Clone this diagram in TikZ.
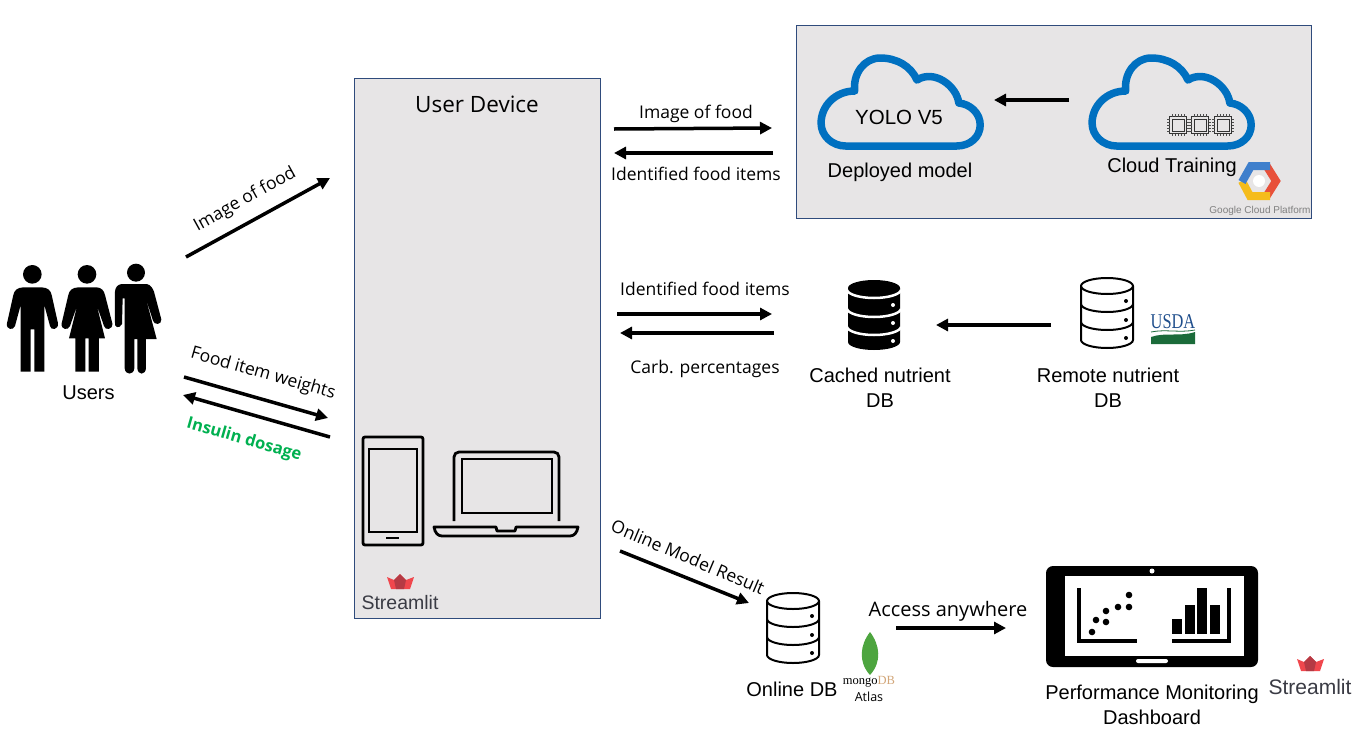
\documentclass[tikz,border=0pt]{standalone}
\usepackage{fontspec}
\setmainfont{Liberation Sans}
\newfontfamily\labelfont{Open Sans}
\newfontfamily\seriffont{Liberation Serif}
\usetikzlibrary{arrows.meta}
\definecolor{panelgray}{HTML}{E7E5E6}
\definecolor{panelblue}{HTML}{2F4B7C}
\definecolor{cloudblue}{HTML}{0070C0}
\definecolor{insulingreen}{HTML}{00B050}
\definecolor{crownred}{HTML}{F0474D}
\definecolor{crowndark}{HTML}{B53A44}
\definecolor{brandgray}{HTML}{3A3B44}
\definecolor{usdablue}{HTML}{1F4E8C}
\definecolor{usdagreen}{HTML}{1B6B3A}
\definecolor{leafgreen}{HTML}{4DA53F}
\definecolor{gcpblue}{HTML}{3F7FCC}
\definecolor{gcpred}{HTML}{E8503A}
\definecolor{gcpyellow}{HTML}{F5BC1C}
\tikzset{
	cloudicon/.pic={
		\draw[cloudblue,line width=7.5pt,line join=round,xscale=1.02] (28,92) -- (137,92) .. controls (150,92) and (160,83) .. (160,71) .. controls (160,59) and (150,50) .. (139,49) .. controls (137,32) and (115,15) .. (98,26) .. controls (92,12) and (78,4) .. (62,4) .. controls (46,4) and (35,20) .. (37,37) .. controls (18,37) and (4,52) .. (4,69) .. controls (4,82) and (15,92) .. (28,92) -- cycle;
	},
	dbicon/.pic={
		\draw[black,line width=2pt,fill=white] (0,8) .. controls (0,3.6) and (11.7,0) .. (26,0) .. controls (40.3,0) and (52,3.6) .. (52,8) -- (52,62) .. controls (52,66.4) and (40.3,70) .. (26,70) .. controls (11.7,70) and (0,66.4) .. (0,62) -- cycle;
		\foreach \bandy in {8,26,44} \draw[black,line width=2pt] (0,\bandy) .. controls (0,\bandy+4.4) and (11.7,\bandy+8) .. (26,\bandy+8) .. controls (40.3,\bandy+8) and (52,\bandy+4.4) .. (52,\bandy);
		\foreach \doty in {23,42,60} \fill[black] (45,\doty) circle (2);
	},
	dbfilled/.pic={
		\fill[black] (0,8) .. controls (0,3.6) and (11.7,0) .. (26,0) .. controls (40.3,0) and (52,3.6) .. (52,8) -- (52,62) .. controls (52,66.4) and (40.3,70) .. (26,70) .. controls (11.7,70) and (0,66.4) .. (0,62) -- cycle;
		\foreach \bandy in {10,29,47} \draw[white,line width=2.5pt] (-1,\bandy) .. controls (0,\bandy+4.4) and (11.7,\bandy+8) .. (26,\bandy+8) .. controls (40.3,\bandy+8) and (52,\bandy+4.4) .. (53,\bandy);
		\foreach \doty in {25,43,61} \fill[white] (45,\doty) circle (2);
	},
	crownicon/.pic={
		\fill[crownred] (0,3) -- (7,6) -- (13,0) -- (19,6) -- (27,3) -- (23,15) -- (4,15) -- cycle;
		\fill[crowndark] (13,0) -- (19,6) -- (17,15) -- (9,15) -- (7,6) -- cycle;
	},
}
\begin{document}
\begin{tikzpicture}[x=1pt,y=-1pt]
	\tikzstyle{panel}=[draw=panelblue,fill=panelgray,line width=1pt]
	\tikzstyle{flow}=[line width=3.5pt,-{Triangle[length=12pt,width=12pt]}]
	\tikzstyle{arial}=[inner sep=0pt,font=\fontsize{20}{25}\selectfont,align=center]
	\tikzstyle{caption}=[inner sep=0pt,font=\labelfont\fontsize{17.5}{20}\selectfont]
	\tikzstyle{brand}=[inner sep=0pt,text=brandgray,font=\fontsize{19.5}{24}\selectfont]
	\tikzstyle{outline}=[draw=black,line width=2.8pt]
	\useasboundingbox (0,0) rectangle (1358,753);

	% panels
	\draw[panel] (354,78) rectangle (600,618);
	\draw[panel] (796,25) rectangle (1311,218);
	\node[inner sep=0pt,font=\labelfont\fontsize{22.5}{24}\selectfont] (device) at (477,104) {User Device};

	% users
	\begin{scope}[shift={(0,250)},scale=1/3]
		\fill (97,73) circle (28);
		\fill (70,112) -- (125,112) .. controls (145,113) and (152,122) .. (155,135) -- (174,220) .. controls (176,240) and (152,242) .. (150,228) -- (133,165) -- (133,365) -- (103,365) -- (103,238) -- (92,238) -- (92,365) -- (62,365) -- (62,165) -- (45,228) .. controls (40,242) and (18,240) .. (21,220) -- (40,135) .. controls (43,122) and (50,113) .. (70,112) -- cycle;
		\fill (261,73) circle (28);
		\fill (235,112) -- (290,112) .. controls (305,113) and (312,122) .. (315,135) -- (337,220) .. controls (339,240) and (315,242) .. (312,228) -- (290,165) -- (315,265) -- (297,265) -- (297,365) -- (266,365) -- (266,265) -- (256,265) -- (256,365) -- (226,365) -- (226,265) -- (207,265) -- (232,165) -- (210,228) .. controls (205,242) and (182,240) .. (185,220) -- (205,135) .. controls (208,122) and (215,113) .. (235,112) -- cycle;
		\fill (408,68) circle (27);
		\fill (365,102) -- (440,102) .. controls (452,104) and (458,115) .. (462,125) -- (484,208) .. controls (486,225) and (462,226) .. (459,212) -- (436,140) -- (470,267) -- (438,267) -- (438,355) .. controls (436,376) and (414,376) .. (412,355) -- (412,267) -- (403,267) -- (403,355) .. controls (401,376) and (376,376) .. (374,355) -- (374,145) -- (368,145) -- (366,222) .. controls (358,238) and (342,232) .. (345,218) -- (345,125) .. controls (346,112) and (352,104) .. (365,102) -- cycle;
	\end{scope}
	\node[arial] (users) at (88.5,393) {Users};

	% phone and laptop
	\draw[outline,rounded corners=2pt] (363,437) rectangle (423,545);
	\draw[outline] (369,449) rectangle (417,532);
	\draw[outline] (386,538) -- (399,538);
	\draw[outline,rounded corners=5pt] (454,521) -- (454,452) -- (559,452) -- (559,521);
	\draw[outline] (462,459) rectangle (552,513);
	\draw[outline,line join=round] (434,527) -- (496,527) -- (497,531) -- (515,531) -- (516,527) -- (578,527) .. controls (577,533) and (574,536) .. (570,536) -- (442,536) .. controls (438,536) and (435,533) .. (434,527) -- cycle;
	\pic at (387,574) {crownicon};
	\node[brand] (streamA) at (400,603) {Streamlit};

	% cloud panel
	\pic at (817,54) {cloudicon};
	\pic at (1088,54) {cloudicon};
	\foreach \chipx in {1178,1200,1223} {
		\draw[black!80,line width=.8pt] (\chipx-6,119) rectangle (\chipx+6,131);
		\draw[black!80,line width=.8pt] (\chipx-8.5,116.5) rectangle (\chipx+8.5,133.5);
		\foreach \pin in {-6,-3,0,3,6} {
			\draw[black!70,line width=.5pt] (\chipx+\pin,114) -- (\chipx+\pin,116.5) (\chipx+\pin,133.5) -- (\chipx+\pin,136);
			\draw[black!70,line width=.5pt] (\chipx-11,125+\pin) -- (\chipx-8.5,125+\pin) (\chipx+8.5,125+\pin) -- (\chipx+11,125+\pin);
		}
	}
	\node[arial,font=\fontsize{20.5}{25}\selectfont] (yolo) at (899,117) {YOLO V5};
	\node[arial] (deployed) at (900,172) {Deployed model};
	\node[arial] (training) at (1172,167) {Cloud Training};
	% gcp hexagon
	\draw[gcpred,line width=8pt] (1266,165) -- (1276,181) -- (1266,197);
	\draw[gcpyellow,line width=8pt] (1270,196) -- (1250,196) -- (1242,181);
	\draw[gcpblue,line width=8pt] (1242,182) -- (1251,166) -- (1270,166);
	\fill[white] (1259,181) circle (6);
	\node[inner sep=0pt,text=black!50,font=\fontsize{10}{12}\selectfont] (gcp) at (1260,211) {Google Cloud Platform};

	% nutrient databases
	\pic at (848,280) {dbfilled};
	\pic at (1081,278) {dbicon};
	\node[arial] (cached) at (880,387.5) {Cached nutrient\\DB};
	\node[arial] (remote) at (1108,387.5) {Remote nutrient\\DB};
	\node[inner sep=0pt,text=usdablue,xscale=.78,font=\seriffont\fontsize{21}{22}\selectfont] (usda) at (1173,322) {USDA};
	\draw[usdagreen,line width=.8pt] (1151,332) .. controls (1165,329) and (1180,333) .. (1195,330);
	\fill[usdagreen] (1151,337) .. controls (1165,332) and (1180,337) .. (1195,332) -- (1195,344) -- (1151,344) -- cycle;

	% online db and dashboard
	\pic at (767,593) {dbicon};
	\node[arial] (online) at (792,689) {Online DB};
	\fill[leafgreen] (870,632) .. controls (880,645) and (882,662) .. (870,675) .. controls (858,662) and (860,645) .. (870,632) -- cycle;
	\node[inner sep=0pt,font=\seriffont\fontsize{12.5}{13}\selectfont] (mongo) at (869,682) {mongo\textcolor{brown!70}{DB}};
	\node[inner sep=0pt,font=\labelfont\fontsize{12.5}{14}\selectfont] (atlas) at (869,697) {Atlas};
	\fill[black,rounded corners=7pt] (1046,566) rectangle (1258,667);
	\fill[white] (1065,576) rectangle (1244,656);
	\fill[white] (1152,571) circle (2.5);
	\fill[white,rounded corners=2pt] (1136,659) rectangle (1168,663);
	\draw[black,line width=4pt] (1079,588) -- (1079,641) -- (1137,641);
	\foreach \dotx/\doty in {1092/632,1096/620,1106/622,1106/611,1118/607,1129/607,1129/595} \fill (\dotx,\doty) circle (3.3);
	\draw[black,line width=4pt] (1229,588) -- (1229,641) -- (1172,641);
	\foreach \barx/\bary in {1172/619,1185/605,1197/588,1210/605} \fill (\barx,\bary) rectangle (\barx+10,634);
	\node[arial] (dash) at (1152,704.5) {Performance Monitoring\\Dashboard};
	\pic at (1297,656) {crownicon};
	\node[brand,font=\fontsize{21}{24}\selectfont] (streamB) at (1310,687) {Streamlit};

	% connector ends
	\coordinate (imgA) at (186,257);
	\coordinate (imgB) at (330,178);
	\coordinate (weightA) at (184,377);
	\coordinate (weightB) at (328,418);
	\coordinate (doseA) at (330,437);
	\coordinate (doseB) at (183,395);
	\coordinate (sendA) at (614,129);
	\coordinate (sendB) at (772,128);
	\coordinate (backA) at (773,153);
	\coordinate (backB) at (614,153);
	\coordinate (itemsA) at (617,314);
	\coordinate (itemsB) at (772,314);
	\coordinate (carbA) at (774,333);
	\coordinate (carbB) at (620,333);
	\coordinate (resA) at (620,551);
	\coordinate (resB) at (749,603);
	\coordinate (accA) at (896,628);
	\coordinate (accB) at (1006,628);
	\coordinate (trainA) at (1069,100);
	\coordinate (trainB) at (994,100);
	\coordinate (cacheA) at (1051,325);
	\coordinate (cacheB) at (936,325);
	\draw[flow] (imgA) -- (imgB);
	\draw[flow] (weightA) -- (weightB);
	\draw[flow] (doseA) -- (doseB);
	\draw[flow] (sendA) -- (sendB);
	\draw[flow] (backA) -- (backB);
	\draw[flow] (itemsA) -- (itemsB);
	\draw[flow] (carbA) -- (carbB);
	\draw[flow] (resA) -- (resB);
	\draw[flow] (accA) -- (accB);
	\draw[flow] (trainA) -- (trainB);
	\draw[flow] (cacheA) -- (cacheB);

	% connector labels
	\node[caption,rotate=29] (imgL) at (245,200) {Image of food};
	\node[caption,rotate=-16] (weightL) at (263,374) {Food item weights};
	\node[caption,rotate=-16,text=insulingreen,font=\labelfont\bfseries\fontsize{16.5}{20}\selectfont] (doseL) at (244,440) {Insulin dosage};
	\node[caption] (sendL) at (696,114) {Image of food};
	\node[caption] (backL) at (696,174) {Identified food items};
	\node[caption] (itemsL) at (705,289) {Identified food items};
	\node[caption] (carbL) at (705,369) {Carb. percentages};
	\node[caption,rotate=-23] (resL) at (688,557) {Online Model Result};
	\node[caption,font=\labelfont\fontsize{20}{22}\selectfont] (accL) at (948,611) {Access anywhere};
\end{tikzpicture}
\end{document}
